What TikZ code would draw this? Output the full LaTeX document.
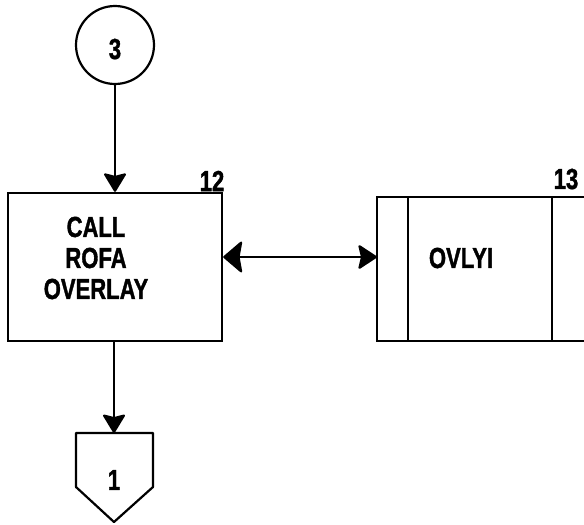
\documentclass[tikz,border=0pt]{standalone}
\usepackage{fontspec}
\setmainfont{Liberation Sans}[BoldFeatures={FakeBold=1.6}]
\usetikzlibrary{arrows.meta}
\newcommand{\nar}[1]{\scalebox{0.76}[1]{#1}}
\begin{document}
\begin{tikzpicture}[x=1pt,y=-1pt,
  lbl/.style={font=\bfseries\fontsize{29}{31}\selectfont, inner sep=0pt},
  conn/.style={line width=2.2pt, -{Stealth[length=20pt,width=24pt,inset=3pt,round]}},
  boxline/.style={line width=2.4pt},
]
\useasboundingbox (0,0) rectangle (584,525);
% connector 3
\node[draw, circle, line width=2.2pt, minimum size=78pt, inner sep=0pt] (c3) at (115,45) {};
\node[lbl] (t3) at (115,49) {\nar{3}};
% box 12
\node[draw, boxline, rectangle, minimum width=214pt, minimum height=148pt, inner sep=0pt] (b12) at (115,267) {};
\node[lbl, align=center] (t12) at (96,258) {\nar{CALL}\\[0pt]\nar{ROFA}\\[0pt]\nar{OVERLAY}};
\node[lbl] (n12) at (212,181) {\nar{12}};
% box 13 (predefined process, cut at right edge)
\coordinate (b13w) at (377,257);
\coordinate (b13tl) at (377,197);
\coordinate (b13bl) at (377,341);
\draw[boxline] (584,197) -- (b13tl) -- (b13bl) -- (584,341);
\draw[boxline] (408,197) -- (408,341);
\draw[boxline] (552,197) -- (552,341);
\node[lbl] (t13) at (461,258) {\nar{OVLYI}};
\node[lbl] (n13) at (566,179) {\nar{13}};
% off-page connector 1
\coordinate (p1top) at (114,433);
\draw[line width=2.2pt, line join=round] (76,433) -- (153,433) -- (153,487) -- (114,522) -- (76,487) -- cycle;
\node[lbl] (t1) at (114,480) {\nar{1}};
% connectors
\draw[conn] (c3.south) -- (c3.south |- b12.north);
\draw[line width=2.2pt, {Stealth[length=20pt,width=34pt,inset=3pt,round]}-{Stealth[length=20pt,width=26pt,inset=3pt,round]}] (b12.east |- b13w) -- (b13w);
\draw[conn] (b12.south -| p1top) -- (p1top);
\end{tikzpicture}
\end{document}
